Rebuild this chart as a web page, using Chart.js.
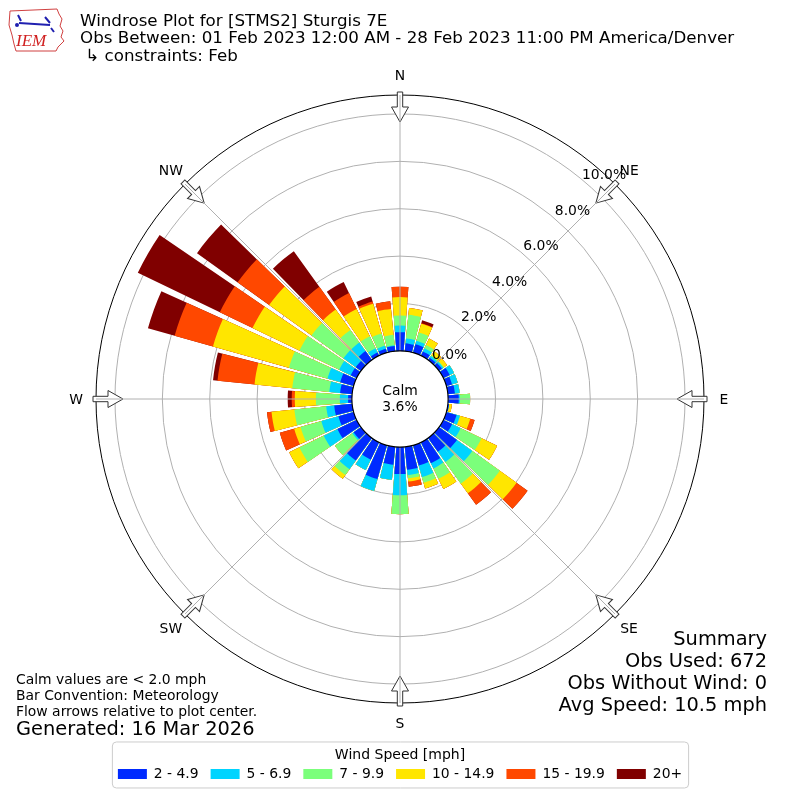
<!DOCTYPE html>
<html>
<head>
<meta charset="utf-8">
<script src="https://cdn.jsdelivr.net/npm/chart.js@4.4.1/dist/chart.umd.min.js"></script>
<style>
  body { margin: 0; background: #fff; font-family: "DejaVu Sans", sans-serif; color: #000; }
  #wrap { position: relative; width: 800px; height: 800px; overflow: hidden; }
  #windrose { position: absolute; left: 0; top: 0; }
  .txt { position: absolute; white-space: pre; }
  #title { left: 80px; top: 11.5px; font-size: 16.7px; line-height: 17.5px; }
  #summary { right: 33px; top: 628.3px; font-size: 19.4px; line-height: 22px; text-align: right; }
  #notes { left: 16px; top: 672.2px; font-size: 13.9px; line-height: 15.9px; }
  #generated { left: 16px; top: 718px; font-size: 19.4px; line-height: 22px; }
  #logo { position: absolute; left: 5px; top: 4px; }
</style>
</head>
<body>
<div id="wrap">
  <canvas id="windrose" width="800" height="800"></canvas>
  <svg id="logo" width="64" height="50" viewBox="0 0 64 50">
    <path d="M5 7 L52 5 L54 10 L57 15 L55 22 L58 27 L56 33 L59 37 L53 43 L51 47 L11 47 L9 40 L7 31 L4 21 Z"
          fill="none" stroke="#d04040" stroke-width="1"/>
    <line x1="14" y1="19" x2="45" y2="21" stroke="#2020b0" stroke-width="2"/>
    <path d="M13 11 L16 17 M40 13 L45 19 M46 24 L49 28" stroke="#2020b0" stroke-width="2" fill="none"/>
    <circle cx="12" cy="21" r="2" fill="#2020b0"/>
    <text x="11" y="42" font-family="Liberation Serif, serif" font-style="italic" font-size="17" fill="#d02020">IEM</text>
  </svg>
  <div id="title" class="txt">Windrose Plot for [STMS2] Sturgis 7E
Obs Between: 01 Feb 2023 12:00 AM - 28 Feb 2023 11:00 PM America/Denver
 ↳ constraints: Feb</div>
  <div id="summary" class="txt">Summary
Obs Used: 672
Obs Without Wind: 0
Avg Speed: 10.5 mph</div>
  <div id="notes" class="txt">Calm values are &lt; 2.0 mph
Bar Convention: Meteorology
Flow arrows relative to plot center.</div>
  <div id="generated" class="txt">Generated: 16 Mar 2026</div>
</div>
<script>
// direction bins (degrees, meteorological, from north clockwise)
const directions = [0, 10, 20, 30, 40, 50, 60, 70, 80, 90, 100, 110, 120, 130, 140, 150, 160, 170,
  180, 190, 200, 210, 220, 230, 240, 250, 260, 270, 280, 290, 300, 310, 320, 330, 340, 350];

const speedBins = ["2 - 4.9", "5 - 6.9", "7 - 9.9", "10 - 14.9", "15 - 19.9", "20+"];

// percent of observations per direction, one list per speed bin
const speed2to5 = [0.79, 0.33, 0.37, 0.20, 0.12, 0.15, 0.30, 0.25, 0.30, 0.45, 0.05, 0.45,
  0.41, 0.93, 0.71, 0.98, 0.89, 0.97, 1.14, 0.76, 1.48, 0.81, 1.17, 0.38,
  0.90, 0.67, 0.76, 0.16, 0.51, 0.59, 0.28, 0.27, 0.46, 0.15, 0.17, 0.22];
const speed5to7 = [0.28, 0.21, 0.15, 0.15, 0.08, 0.07, 0.20, 0.25, 0.20, 0.05, 0, 0.15,
  0.40, 0.80, 0.54, 0.24, 0.50, 0.22, 0.89, 0.64, 0.52, 0.49, 0.45, 0.07,
  0.64, 0.75, 0.34, 0.35, 0.46, 0.56, 0.54, 0.64, 0.45, 0.20, 0.13, 0.03];
const speed7to10 = [0.42, 1.00, 0.37, 0.15, 0.05, 0.03, 0, 0, 0, 0.43, 0, 0,
  0.98, 1.43, 1.12, 0.49, 0.25, 0.14, 0.80, 0, 0, 0, 0.30, 0.90,
  1.14, 0.91, 1.35, 1.01, 1.57, 1.69, 1.86, 1.66, 0.65, 0.56, 0.54, 0.44];
const speed10to15 = [0.78, 0.29, 0.38, 0.30, 0.20, 0.17, 0, 0, 0, 0, 0.12, 0.45,
  0.73, 0.87, 0.50, 0.48, 0.25, 0.14, 0, 0, 0, 0, 0.19, 0,
  0.48, 0.28, 0.97, 0.89, 1.60, 3.33, 2.20, 2.20, 1.06, 1.28, 1.31, 1.10];
const speed15to20 = [0.44, 0, 0.02, 0, 0, 0, 0, 0, 0, 0, 0, 0.19,
  0, 0.57, 0.60, 0, 0, 0.22, 0, 0, 0, 0, 0, 0,
  0, 0.63, 0.19, 0.13, 1.57, 1.68, 1.53, 1.64, 1.18, 0.74, 0.09, 0.33];
const speed20plus = [0, 0, 0.13, 0, 0, 0, 0, 0, 0, 0, 0, 0,
  0, 0, 0, 0, 0, 0, 0, 0, 0, 0, 0, 0,
  0, 0, 0, 0.17, 0.19, 1.17, 3.84, 2.11, 1.85, 0.52, 0.22, 0];

const calmPercent = 3.6;
const tickValues = [0, 2, 4, 6, 8, 10];
const compassAngles = [0, 45, 90, 135, 180, 225, 270, 315];
const compassLabels = ["N", "NE", "E", "SE", "S", "SW", "W", "NW"];

const binColors = ["#002aff", "#00d4ff", "#7bff7b", "#ffe600", "#ff4800", "#800000"];

// radial axis: the calm circle sits below 0 %
const R_MIN = -2.03;
const R_MAX = 10.8;
const BAR_DEG = 8.6;
const GAP_DEG = 10 - BAR_DEG;

Chart.defaults.font.family = "'DejaVu Sans', sans-serif";
Chart.defaults.font.size = 13.9;
Chart.defaults.color = "#000";

// stack by drawing cumulative arcs, smallest on top; every bar is followed by an empty gap arc
const series = [speed2to5, speed5to7, speed7to10, speed10to15, speed15to20, speed20plus];
let running = directions.map(() => 0);
const datasets = series.map((vals, k) => {
  running = running.map((v, i) => v + vals[i]);
  const data = [];
  running.forEach((v) => data.push(v, R_MIN));
  return {
    label: speedBins[k],
    data: data,
    backgroundColor: binColors[k],
    borderWidth: 0,
    angle: (c) => (c.dataIndex % 2 === 0 ? BAR_DEG : GAP_DEG),
  };
});
const labels = [];
directions.forEach((d) => labels.push(d + "°", ""));

function polar(s, r, deg) {
  const a = (deg * Math.PI) / 180;
  return [s.xCenter + r * Math.sin(a), s.yCenter - r * Math.cos(a)];
}

const windroseDecor = {
  id: "windroseDecor",
  afterDatasetsDraw(chart) {
    const s = chart.scales.r;
    const ctx = chart.ctx;
    ctx.save();
    ctx.beginPath();
    ctx.arc(s.xCenter, s.yCenter, s.getDistanceFromCenterForValue(0), 0, 2 * Math.PI);
    ctx.fillStyle = "#fff";
    ctx.fill();
    ctx.restore();
  },
  afterDraw(chart) {
    const s = chart.scales.r;
    const ctx = chart.ctx;
    const r0 = s.getDistanceFromCenterForValue(0);
    const R = s.drawingArea;
    ctx.save();

    // flow arrows
    compassAngles.forEach((deg) => {
      ctx.save();
      ctx.translate(s.xCenter, s.yCenter);
      ctx.rotate((deg * Math.PI) / 180);
      ctx.beginPath();
      ctx.moveTo(-2.7, -R - 3);
      ctx.lineTo(2.7, -R - 3);
      ctx.lineTo(2.7, -R + 12);
      ctx.lineTo(8.5, -R + 12);
      ctx.lineTo(0, -R + 27);
      ctx.lineTo(-8.5, -R + 12);
      ctx.lineTo(-2.7, -R + 12);
      ctx.closePath();
      ctx.fillStyle = "#fff";
      ctx.fill();
      ctx.lineWidth = 1;
      ctx.strokeStyle = "#333";
      ctx.stroke();
      ctx.restore();
    });

    // spokes
    ctx.strokeStyle = "#b0b0b0";
    ctx.lineWidth = 1;
    compassAngles.forEach((deg) => {
      const p1 = polar(s, r0, deg);
      const p2 = polar(s, R, deg);
      ctx.beginPath();
      ctx.moveTo(p1[0], p1[1]);
      ctx.lineTo(p2[0], p2[1]);
      ctx.stroke();
    });

    // calm circle
    ctx.beginPath();
    ctx.arc(s.xCenter, s.yCenter, r0, 0, 2 * Math.PI);
    ctx.strokeStyle = "#000";
    ctx.lineWidth = 1.1;
    ctx.stroke();

    ctx.fillStyle = "#000";
    ctx.font = "13.9px 'DejaVu Sans', sans-serif";
    ctx.textAlign = "center";
    ctx.textBaseline = "middle";
    ctx.fillText("Calm", s.xCenter, s.yCenter - 8);
    ctx.fillText(calmPercent.toFixed(1) + "%", s.xCenter, s.yCenter + 8);

    // radial tick labels
    tickValues.forEach((v) => {
      const r = s.getDistanceFromCenterForValue(v);
      const deg = 42 + 5.6 * Math.pow(r0 / r, 2);
      const p = polar(s, r + 19, deg);
      ctx.fillText(v.toFixed(1) + "%", p[0], p[1] + 2);
    });

    // compass labels
    compassAngles.forEach((deg, i) => {
      const p = polar(s, R + 20, deg);
      ctx.fillText(compassLabels[i], p[0], p[1] + 1);
    });

    // legend frame
    const lg = chart.legend;
    if (lg && lg.legendHitBoxes && lg.legendHitBoxes.length) {
      const hb = lg.legendHitBoxes;
      const x1 = hb[0].left - 5.5;
      const x2 = hb[hb.length - 1].left + hb[hb.length - 1].width + 6.5;
      const y1 = lg.top - 4.5;
      const y2 = lg.top + 41.5;
      ctx.beginPath();
      ctx.roundRect(x1, y1, x2 - x1, y2 - y1, 4);
      ctx.strokeStyle = "#cccccc";
      ctx.lineWidth = 1;
      ctx.stroke();
    }
    ctx.restore();
  },
};

new Chart(document.getElementById("windrose").getContext("2d"), {
  type: "polarArea",
  data: { labels: labels, datasets: datasets },
  options: {
    responsive: false,
    devicePixelRatio: 1,
    animation: false,
    layout: { padding: { top: 53.5, left: 96, right: 96, bottom: 9.05 } },
    scales: {
      r: {
        type: "radialLinear",
        min: R_MIN,
        max: R_MAX,
        beginAtZero: false,
        startAngle: -BAR_DEG / 2,
        z: 1,
        angleLines: { display: false },
        pointLabels: { display: false },
        ticks: { display: false },
        afterBuildTicks: (axis) => {
          axis.ticks = [R_MIN].concat(tickValues, [R_MAX]).map((v) => ({ value: v }));
        },
        grid: {
          circular: true,
          lineWidth: 1,
          color: (c) => {
            const v = c.tick ? c.tick.value : 0;
            if (v >= R_MAX) return "#000";
            if (v <= 0) return "rgba(0,0,0,0)";
            return "#b0b0b0";
          },
        },
      },
    },
    plugins: {
      tooltip: { enabled: false },
      legend: {
        position: "bottom",
        onClick: null,
        title: {
          display: true,
          text: "Wind Speed [mph]",
          color: "#000",
          font: { size: 14, lineHeight: 0.468 },
          padding: { top: 2, bottom: 0 },
        },
        labels: {
          boxWidth: 29,
          boxHeight: 10,
          padding: 12,
          color: "#000",
          font: { size: 13.9 },
          generateLabels: (chart) =>
            chart.data.datasets.map((ds, i) => ({
              text: ds.label,
              fillStyle: binColors[i],
              strokeStyle: binColors[i],
              lineWidth: 0,
              hidden: false,
              datasetIndex: i,
            })),
        },
      },
    },
  },
  plugins: [windroseDecor],
});
</script>
</body>
</html>
